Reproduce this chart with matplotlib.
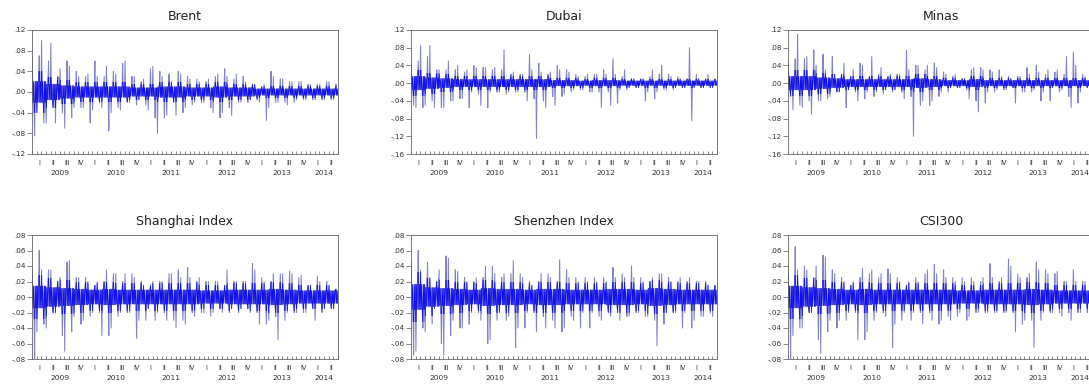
import matplotlib
matplotlib.use("Agg")
import matplotlib.pyplot as plt
from matplotlib.patches import Polygon
from matplotlib.transforms import blended_transform_factory

plt.rcParams["font.family"] = ["DejaVu Sans"]

# Daily returns, Jan 2009 - Jun 2014, summarised as monthly highs/lows
# plus the half-width of the dense central band per quarter
years = ["2009", "2010", "2011", "2012", "2013", "2014"]
quarters = ["I", "II", "III", "IV"]

brent_hi = [.07, .07, .10, .06, .095, .03, .045, .06, .05, .04, .03, .03,
            .035, .06, .03, .03, .05, .04, .035, .055, .06, .03, .03, .02,
            .025, .045, .05, .04, .03, .035, .02, .04, .035, .03, .025, .025,
            .02, .02, .025, .03, .035, .045, .03, .025, .035, .03, .02, .015,
            .015, .01, .015, .04, .03, .025, .025, .02, .02, .02, .02, .015,
            .015, .015, .015, .02, .02, .015]
brent_lo = [-.085, -.04, -.06, -.06, -.03, -.06, -.04, -.07, -.05, -.03, -.03, -.03,
            -.06, -.035, -.02, -.03, -.075, -.04, -.03, -.035, -.02, -.02, -.025, -.015,
            -.025, -.035, -.05, -.08, -.05, -.045, -.02, -.045, -.04, -.03, -.025, -.02,
            -.02, -.02, -.03, -.04, -.05, -.04, -.03, -.045, -.02, -.02, -.02, -.015,
            -.015, -.02, -.055, -.03, -.02, -.02, -.02, -.025, -.02, -.015, -.015, -.015,
            -.015, -.015, -.015, -.015, -.015, -.015]
brent_core = [.02, .015, .012, .01, .01, .01, .01, .008, .008, .01, .01, .008,
              .008, .01, .008, .008, .006, .006, .006, .006, .006, .006]

dubai_hi = [.045, .05, .085, .06, .085, .03, .03, .03, .05, .03, .04, .025,
            .03, .04, .035, .035, .035, .03, .035, .03, .075, .02, .025, .02,
            .02, .065, .03, .045, .025, .02, .025, .04, .03, .03, .025, .02,
            .015, .015, .02, .02, .02, .03, .02, .055, .02, .015, .03, .01,
            .01, .01, .01, .015, .03, .02, .04, .02, .015, .015, .01, .01,
            .08, .02, .01, .01, .02, .01]
dubai_lo = [-.05, -.055, -.055, -.05, -.04, -.055, -.055, -.055, -.04, -.04, -.035, -.035,
            -.055, -.02, -.025, -.05, -.055, -.02, -.02, -.02, -.025, -.02, -.02, -.02,
            -.02, -.04, -.035, -.125, -.04, -.055, -.03, -.05, -.03, -.025, -.02, -.015,
            -.015, -.015, -.02, -.02, -.02, -.055, -.02, -.05, -.045, -.015, -.015, -.01,
            -.01, -.01, -.04, -.02, -.035, -.02, -.015, -.015, -.015, -.01, -.01, -.01,
            -.085, -.01, -.01, -.01, -.01, -.01]
dubai_core = [.015, .012, .01, .008, .008, .008, .008, .008, .008, .008, .006, .006,
              .005, .006, .006, .005, .005, .005, .005, .005, .005, .005]

minas_hi = [.05, .055, .11, .055, .06, .075, .04, .065, .03, .06, .02, .02,
            .045, .015, .03, .045, .04, .015, .06, .02, .035, .015, .02, .02,
            .02, .075, .03, .04, .04, .03, .04, .045, .035, .025, .02, .015,
            .02, .01, .01, .03, .035, .035, .03, .03, .025, .03, .015, .015,
            .01, .015, .015, .035, .02, .04, .025, .02, .03, .025, .03, .02,
            .06, .07, .04, .02, .015, .01]
minas_lo = [-.03, -.06, -.05, -.055, -.04, -.07, -.04, -.04, -.035, -.03, -.02, -.02,
            -.055, -.015, -.02, -.04, -.035, -.02, -.03, -.02, -.025, -.015, -.02, -.015,
            -.02, -.035, -.03, -.12, -.05, -.04, -.05, -.04, -.03, -.02, -.02, -.01,
            -.01, -.01, -.015, -.035, -.04, -.065, -.045, -.02, -.02, -.015, -.015, -.015,
            -.01, -.045, -.02, -.02, -.02, -.015, -.04, -.02, -.04, -.01, -.02, -.015,
            -.03, -.055, -.045, -.02, -.01, -.01]
minas_core = [.015, .015, .012, .01, .008, .008, .008, .008, .008, .01, .008, .006,
              .006, .008, .006, .006, .006, .006, .006, .006, .006, .006]

shanghai_hi = [.04, .06, .035, .035, .035, .02, .025, .045, .047, .025, .025, .025,
               .02, .015, .02, .02, .035, .03, .03, .02, .03, .03, .025, .02,
               .015, .015, .02, .02, .02, .03, .03, .035, .025, .038, .025, .02,
               .025, .02, .02, .02, .02, .015, .035, .02, .02, .02, .02, .043,
               .035, .025, .02, .02, .03, .03, .03, .033, .03, .025, .028, .015,
               .015, .027, .02, .02, .015, .01]
shanghai_lo = [-.08, -.045, -.035, -.04, -.02, -.02, -.05, -.07, -.045, -.025, -.035, -.03,
               -.025, -.02, -.02, -.05, -.05, -.04, -.025, -.02, -.02, -.02, -.053, -.03,
               -.03, -.015, -.03, -.02, -.02, -.03, -.03, -.04, -.03, -.035, -.02, -.025,
               -.02, -.02, -.025, -.02, -.015, -.02, -.02, -.015, -.02, -.015, -.015, -.02,
               -.02, -.035, -.035, -.03, -.025, -.055, -.03, -.02, -.02, -.02, -.02, -.02,
               -.015, -.03, -.02, -.015, -.015, -.015]
shanghai_core = [.014, .012, .011, .01, .009, .01, .009, .009, .009, .009, .009, .009,
                 .008, .008, .009, .009, .009, .01, .009, .008, .008, .008]

shenzhen_hi = [.045, .06, .035, .045, .025, .02, .035, .053, .05, .035, .033, .025,
               .02, .02, .025, .025, .04, .04, .03, .025, .03, .03, .047, .03,
               .025, .02, .015, .02, .03, .03, .025, .02, .048, .035, .025, .025,
               .02, .025, .02, .025, .02, .025, .02, .038, .025, .03, .025, .04,
               .025, .025, .02, .02, .025, .03, .03, .025, .02, .02, .025, .02,
               .025, .02, .02, .02, .015, .015]
shenzhen_lo = [-.075, -.07, -.04, -.045, -.035, -.015, -.06, -.075, -.05, -.03, -.04, -.04,
               -.035, -.02, -.02, -.03, -.06, -.055, -.03, -.02, -.03, -.025, -.065, -.04,
               -.04, -.02, -.02, -.045, -.025, -.04, -.03, -.04, -.045, -.04, -.025, -.03,
               -.04, -.02, -.04, -.02, -.025, -.03, -.02, -.025, -.02, -.03, -.025, -.025,
               -.02, -.02, -.025, -.025, -.03, -.063, -.035, -.02, -.02, -.02, -.04, -.02,
               -.04, -.03, -.025, -.025, -.02, -.025]
shenzhen_core = [.016, .012, .011, .01, .009, .011, .01, .01, .009, .01, .01, .009,
                 .009, .009, .01, .01, .009, .011, .01, .009, .009, .009]

csi_hi = [.04, .065, .035, .04, .035, .025, .04, .054, .052, .035, .03, .025,
          .02, .015, .02, .025, .037, .03, .035, .025, .03, .036, .03, .025,
          .02, .015, .02, .025, .02, .03, .035, .042, .03, .035, .025, .025,
          .02, .025, .02, .025, .02, .02, .025, .043, .025, .02, .025, .049,
          .04, .03, .025, .025, .03, .045, .035, .035, .03, .03, .033, .02,
          .02, .035, .02, .02, .02, .02]
csi_lo = [-.08, -.05, -.04, -.04, -.02, -.02, -.055, -.073, -.045, -.03, -.04, -.03,
          -.03, -.02, -.02, -.055, -.055, -.045, -.03, -.02, -.02, -.025, -.065, -.035,
          -.03, -.02, -.03, -.02, -.02, -.035, -.02, -.03, -.035, -.03, -.025, -.03,
          -.025, -.02, -.03, -.025, -.02, -.02, -.02, -.02, -.02, -.02, -.02, -.02,
          -.02, -.045, -.035, -.03, -.03, -.065, -.03, -.02, -.02, -.02, -.02, -.025,
          -.02, -.03, -.02, -.02, -.02, -.02]
csi_core = [.014, .012, .011, .01, .009, .01, .009, .009, .009, .009, .009, .009,
            .008, .008, .009, .009, .009, .01, .009, .008, .008, .008]

panels = [
    ("Brent", brent_hi, brent_lo, brent_core, (-.12, .12), [-.12, -.08, -.04, 0, .04, .08, .12]),
    ("Dubai", dubai_hi, dubai_lo, dubai_core, (-.16, .12), [-.16, -.12, -.08, -.04, 0, .04, .08, .12]),
    ("Minas", minas_hi, minas_lo, minas_core, (-.16, .12), [-.16, -.12, -.08, -.04, 0, .04, .08, .12]),
    ("Shanghai Index", shanghai_hi, shanghai_lo, shanghai_core, (-.08, .08), [-.08, -.06, -.04, -.02, 0, .02, .04, .06, .08]),
    ("Shenzhen Index", shenzhen_hi, shenzhen_lo, shenzhen_core, (-.08, .08), [-.08, -.06, -.04, -.02, 0, .02, .04, .06, .08]),
    ("CSI300", csi_hi, csi_lo, csi_core, (-.08, .08), [-.08, -.06, -.04, -.02, 0, .02, .04, .06, .08]),
]

# axes boxes in figure fractions
lefts = [32 / 1089, 411 / 1089, 788 / 1089]
bottoms = [(385 - 154) / 385, (385 - 359) / 385]
w, h = 306 / 1089, 124 / 385
dark_reach = 2.0   # how far (in band widths) the saturated blue reaches


def fmt(v):
    if abs(v) < 1e-9:
        return ".00"
    return ("%.2f" % v).replace("0.", ".")


fig = plt.figure(figsize=(10.89, 3.85), dpi=100)

for i, (name, hi, lo, core, ylim, yt) in enumerate(panels):
    ax = fig.add_axes([lefts[i % 3], bottoms[i // 3], w, h])
    n = len(hi)

    # one month = extremes plus swings inside the central band
    xs, ys = [], []
    for m in range(n):
        c = core[m // 3]
        if m % 2 == 0:
            month = [hi[m], -c, c, -c, lo[m], c, -c, c]
        else:
            month = [lo[m], c, -c, c, hi[m], -c, c, -c]
        for k, v in enumerate(month):
            xs.append(m + (k + 0.5) / len(month))
            ys.append(v)

    # light spikes everywhere, saturated blue near zero
    ax.plot(xs, ys, color="#8282c8", lw=0.75)
    top = []
    for q, c in enumerate(core):
        top += [(q * 3, c * dark_reach), (q * 3 + 3, c * dark_reach)]
    bottom = [(x, -y) for (x, y) in reversed(top)]
    band = Polygon(top + bottom, closed=True, transform=ax.transData)
    dark, = ax.plot(xs, ys, color="#1010ee", lw=0.5)
    dark.set_clip_path(band)

    ax.set_xlim(0, n)
    ax.set_ylim(*ylim)
    ax.set_yticks(yt)
    ax.set_yticklabels([fmt(v) for v in yt])
    ax.set_xticks(range(0, n + 1))
    ax.set_xticklabels([])
    ax.tick_params(axis="x", direction="in", length=2, width=0.5, color="#555555")
    ax.tick_params(axis="y", direction="out", length=3.5, width=0.5, color="#555555",
                   labelsize=5.2, labelcolor="#333333", pad=1)
    for sp in ax.spines.values():
        sp.set_linewidth(0.6)
        sp.set_color("#666666")

    ax.set_title(name, fontsize=9, color="#222222", pad=7)

    tr = blended_transform_factory(ax.transData, ax.transAxes)
    for q in range(n // 3):
        ax.text(q * 3 + 1.5, -0.075, quarters[q % 4], transform=tr, ha="center", va="center",
                fontsize=4.8, color="#333333", clip_on=False)
    for j, yr in enumerate(years):
        mid = j * 12 + min(6, (n - j * 12) / 2)
        ax.text(mid, -0.155, yr, transform=tr, ha="center", va="center",
                fontsize=5.4, color="#333333", clip_on=False)

fig.savefig("out.png", dpi=100)
